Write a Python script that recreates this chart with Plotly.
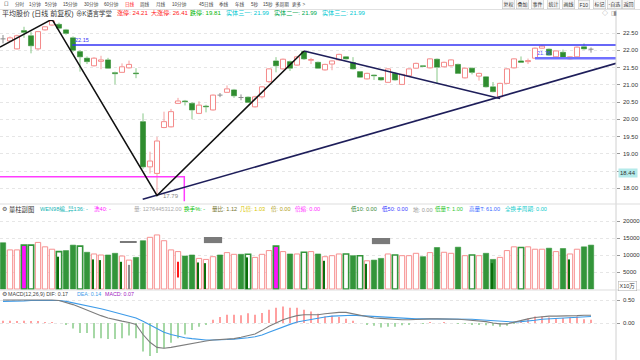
import plotly.graph_objects as go

# ---------------- data ----------------
OPEN = [22.33, 22.27, 22.04, 22.57, 22.42, 22.04, 22.59, 22.73, 22.75, 22.59,
        22.36, 21.96, 21.77, 21.55, 21.68, 21.72, 21.35, 21.36, 21.49, 21.34,
        19.93, 18.62, 18.43, 19.76, 19.78, 20.46, 20.53, 20.46, 20.17, 20.38,
        20.27, 20.70, 20.78, 20.85, 20.63, 20.64, 20.36, 20.65, 21.09, 21.69,
        21.46, 21.67, 21.57, 21.96, 21.71, 21.65, 21.43, 21.60, 21.72, 21.81,
        21.64, 21.38, 21.17, 21.28, 21.21, 21.07, 21.33, 21.01, 21.26, 21.48,
        21.55, 21.49, 21.74, 21.52, 21.55, 21.59, 21.20, 21.48, 21.25, 21.23,
        20.94, 20.65, 21.04, 21.49, 21.69, 21.67, 21.77, 22.06, 22.03, 21.81,
        21.94, 21.75, 21.81, 22.10, 22.03]
CLOSE = [22.33, 22.36, 22.42, 22.52, 22.13, 22.54, 22.68, 22.85, 22.64, 22.49,
         22.00, 21.81, 21.67, 21.77, 21.72, 21.48, 21.32, 21.52, 21.59, 21.32,
         18.62, 18.79, 19.37, 19.93, 20.22, 20.53, 20.51, 20.27, 20.41, 20.36,
         20.70, 20.70, 20.88, 20.68, 20.63, 20.49, 20.65, 20.94, 21.46, 21.55,
         21.74, 21.48, 21.81, 21.75, 21.73, 21.48, 21.59, 21.69, 21.88, 21.75,
         21.46, 21.22, 21.33, 21.26, 21.14, 21.46, 21.14, 21.30, 21.46, 21.62,
         21.53, 21.75, 21.51, 21.65, 21.72, 21.33, 21.48, 21.36, 21.33, 20.94,
         20.80, 21.04, 21.46, 21.75, 21.65, 21.70, 22.06, 22.12, 21.86, 21.98,
         21.78, 21.81, 22.09, 22.04, 22.03]
HIGH = [22.44, 22.40, 22.45, 22.68, 22.54, 22.56, 22.70, 22.88, 22.80, 22.62,
        22.40, 22.00, 21.82, 21.80, 21.84, 21.78, 21.38, 21.62, 21.70, 21.48,
        20.17, 19.06, 19.49, 20.22, 20.30, 20.62, 20.56, 20.50, 20.52, 20.42,
        20.72, 20.76, 20.98, 20.88, 20.72, 20.66, 20.68, 20.96, 21.48, 21.80,
        21.76, 21.70, 21.84, 21.98, 21.78, 21.67, 21.61, 21.71, 21.90, 21.83,
        21.80, 21.40, 21.35, 21.29, 21.23, 21.48, 21.36, 21.32, 21.48, 21.64,
        21.57, 21.77, 21.76, 21.67, 21.74, 21.61, 21.50, 21.50, 21.35, 21.25,
        21.08, 21.06, 21.48, 21.77, 21.82, 21.76, 22.08, 22.15, 22.05, 22.00,
        22.02, 21.83, 22.11, 22.20, 22.08]
LOW = [22.20, 22.25, 22.02, 22.36, 21.91, 22.00, 22.57, 22.70, 22.60, 22.45,
       21.95, 21.38, 21.60, 21.53, 21.45, 21.46, 21.01, 21.34, 21.47, 21.19,
       18.56, 18.43, 17.79, 19.74, 19.76, 20.44, 20.40, 20.00, 20.15, 20.20,
       20.25, 20.64, 20.76, 20.62, 20.55, 20.47, 20.34, 20.60, 21.05, 21.36,
       21.44, 21.40, 21.55, 21.72, 21.60, 21.46, 21.41, 21.42, 21.70, 21.73,
       21.44, 21.20, 21.15, 21.14, 21.12, 21.05, 21.12, 20.99, 21.24, 21.46,
       21.51, 21.47, 21.02, 21.50, 21.53, 21.31, 21.18, 21.30, 21.12, 20.92,
       20.78, 20.60, 21.02, 21.47, 21.63, 21.60, 21.75, 22.04, 21.84, 21.79,
       21.76, 21.73, 21.79, 22.02, 21.93]

VOLUME = [13600, 11500, 11500, 12900, 12900, 13700, 12400, 11700, 11000, 11300,
          12900, 12600, 10800, 10300, 10000, 10000, 10500, 9700, 8500, 9300,
          14200, 15200, 15900, 14200, 11500, 11000, 9700, 10000, 9000, 8700,
          9500, 10000, 10700, 10200, 10200, 10200, 9300, 10200, 11300, 12600,
          11000, 10300, 10300, 10800, 11000, 10300, 9500, 9800, 10300, 10300,
          9800, 9800, 8300, 8500, 9000, 10300, 10000, 9800, 9800, 10500,
          9500, 10700, 12200, 10800, 10500, 12300, 9800, 10000, 9800, 10500,
          8700, 9300, 11300, 12400, 12200, 12400, 11700, 11700, 12000, 11000,
          11900, 10300, 11700, 12400, 12900]
VOL_STYLE = ['g', 'r', 'r', 'm', 'gh', 'r', 'r', 'r', 'gh', 'g',
             'g', 'gh', 'g', 'r', 'r', 'g', 'g', 'r', 'r', 'g',
             'g', 'r', 'r', 'r', 'r', 'r', 'g', 'g', 'r', 'r',
             'r', 'g', 'r', 'r', 'g', 'gh', 'r', 'r', 'r', 'm',
             'r', 'g', 'r', 'gh', 'r', 'g', 'r', 'r', 'r', 'gh',
             'g', 'gh', 'r', 'g', 'g', 'r', 'gh', 'r', 'r', 'r',
             'g', 'r', 'g', 'r', 'r', 'g', 'r', 'gh', 'r', 'g',
             'g', 'r', 'r', 'r', 'gh', 'r', 'r', 'r', 'g', 'r',
             'g', 'r', 'r', 'g', 'g']
INNER_IDX = [8, 13, 14, 17, 28, 29, 35, 46, 52, 70, 81]
INNER_VAL = [9500, 8700, 8500, 8000, 7800, 7600, 9300, 8300, 7400, 7600, 8700]
INNER_GRAY_IDX = [18]
INNER_GRAY_VAL = [7100]
FLOAT_RED_IDX = [25]
FLOAT_RED_LO = [3400]
FLOAT_RED_HI = [8000]
MARK_START = [16.7, 28.7, 52.7]
MARK_END = [19.1, 31.3, 55.3]
MARK_LO = [13600, 13500, 13200]
MARK_HI = [14100, 15300, 15000]

DIF = [0.50, 0.50, 0.51, 0.51, 0.51, 0.51, 0.50, 0.50, 0.49, 0.45,
       0.40, 0.34, 0.28, 0.21, 0.16, 0.11, 0.07, 0.04, 0.01, -0.03,
       -0.25, -0.42, -0.53, -0.55, -0.53, -0.50, -0.48, -0.45, -0.42, -0.39,
       -0.37, -0.36, -0.35, -0.34, -0.31, -0.28, -0.24, -0.16, -0.07, 0.00,
       0.07, 0.12, 0.16, 0.18, 0.18, 0.18, 0.20, 0.22, 0.23, 0.23,
       0.20, 0.16, 0.13, 0.11, 0.10, 0.09, 0.07, 0.07, 0.07, 0.08,
       0.08, 0.09, 0.09, 0.09, 0.09, 0.08, 0.07, 0.06, 0.05, 0.03,
       0.00, -0.02, -0.02, 0.02, 0.06, 0.09, 0.12, 0.14, 0.15, 0.15,
       0.15, 0.15, 0.16, 0.17, 0.17]
DEA = [0.47, 0.47, 0.48, 0.48, 0.49, 0.49, 0.49, 0.49, 0.49, 0.47,
       0.44, 0.41, 0.38, 0.34, 0.31, 0.27, 0.23, 0.19, 0.16, 0.11,
       0.04, -0.04, -0.12, -0.20, -0.25, -0.29, -0.32, -0.34, -0.36, -0.37,
       -0.37, -0.37, -0.36, -0.35, -0.34, -0.32, -0.30, -0.26, -0.20, -0.14,
       -0.08, -0.03, 0.02, 0.05, 0.08, 0.10, 0.13, 0.15, 0.16, 0.17,
       0.17, 0.16, 0.15, 0.14, 0.13, 0.12, 0.11, 0.10, 0.09, 0.09,
       0.09, 0.09, 0.09, 0.09, 0.09, 0.09, 0.08, 0.08, 0.07, 0.06,
       0.04, 0.03, 0.02, 0.02, 0.03, 0.04, 0.06, 0.08, 0.09, 0.10,
       0.11, 0.12, 0.13, 0.13, 0.14]
MACD_HIST = [0.05, 0.05, 0.04, 0.05, 0.04, 0.03, 0.01, 0.01, 0.00, -0.03,
             -0.12, -0.22, -0.22, -0.33, -0.33, -0.35, -0.35, -0.33, -0.27, -0.33,
             -0.62, -0.72, -0.65, -0.55, -0.43, -0.33, -0.25, -0.15, -0.08, -0.03,
             0.07, 0.13, 0.18, 0.18, 0.17, 0.21, 0.18, 0.22, 0.29, 0.33,
             0.36, 0.33, 0.33, 0.29, 0.25, 0.20, 0.14, 0.16, 0.13, 0.09,
             0.05, 0.00, -0.03, -0.06, -0.10, -0.08, -0.08, -0.05, -0.03, 0.00,
             -0.01, 0.01, 0.00, 0.01, 0.00, -0.02, -0.02, -0.03, -0.04, -0.05,
             -0.06, -0.08, -0.06, -0.02, 0.06, 0.10, 0.14, 0.14, 0.12, 0.10,
             0.11, 0.12, 0.14, 0.08, 0.07]

# drawn annotation lines (index, price)
ZIG_X = [-0.43, 7.0, 22.0, 43.0]
ZIG_Y = [22.09, 22.90, 17.79, 21.98]
DOWN_X = [43.0, 71.0]
DOWN_Y = [21.98, 20.60]
UP_X = [19.96, 87.57]
UP_Y = [17.68, 21.62]
HLINE1_START, HLINE1_PRICE = 9.9, 22.15
HLINE2_START, HLINE2_PRICE = 76.0, 21.77
BOX_X = [-0.43, 25.9, 25.9]
BOX_Y = [18.33, 18.33, 17.62]

HEADER_TOOLBAR = ["口", "分时", "1分钟", "5分钟", "15分钟", "30分钟", "60分钟", "日线", "周线", "月线",
                  "10分钟", "45日线", "季线", "年线", "5秒", "15秒", "多周期", "更多 >"]
BUTTONS = ["复权", "叠加", "事件", "统计", "画线", "F10", "标记", "-自选", "返回"]
PRICE_TICKS = [18.0, 18.5, 19.0, 19.5, 20.0, 20.5, 21.0, 21.5, 22.0, 22.5]
VOL_TICKS = [5000, 10000, 15000, 20000]
MACD_TICKS = [0.0, 0.5]

# ---------------- styling ----------------
FONT = "Liberation Sans, Noto Sans CJK SC, DejaVu Sans"
RED_LINE = '#f48a8a'
RED_WICK = '#f5a0a0'
GREEN_BODY = '#2f8d2f'
GREEN_WICK = '#88c888'
DOJI = '#8a8a8a'
W = 640
H = 360
X_LEFT = -0.4286
X_RIGHT = 87.571

N = len(CLOSE)
IDX = list(range(N))
up = [i for i in IDX if CLOSE[i] > OPEN[i]]
dn = [i for i in IDX if CLOSE[i] < OPEN[i]]
dj = [i for i in IDX if CLOSE[i] == OPEN[i]]

fig = go.Figure()


def wick_xy(ids):
    xs, ys = [], []
    for i in ids:
        top = max(OPEN[i], CLOSE[i])
        bot = min(OPEN[i], CLOSE[i])
        xs += [i, i, None, i, i, None]
        ys += [HIGH[i], top, None, bot, LOW[i], None]
    return xs, ys


# candle bodies
fig.add_trace(go.Bar(x=up, y=[CLOSE[i] - OPEN[i] for i in up], base=[OPEN[i] for i in up],
                     width=0.72, marker=dict(color='white', line=dict(color=RED_LINE, width=1)),
                     hoverinfo='skip', xaxis='x', yaxis='y'))
fig.add_trace(go.Bar(x=dn, y=[OPEN[i] - CLOSE[i] for i in dn], base=[CLOSE[i] for i in dn],
                     width=0.72, marker=dict(color=GREEN_BODY, line=dict(color=GREEN_BODY, width=0.6)),
                     hoverinfo='skip', xaxis='x', yaxis='y'))
wx, wy = wick_xy(up)
fig.add_trace(go.Scatter(x=wx, y=wy, mode='lines', line=dict(color=RED_WICK, width=1),
                         hoverinfo='skip', xaxis='x', yaxis='y'))
wx, wy = wick_xy(dn)
fig.add_trace(go.Scatter(x=wx, y=wy, mode='lines', line=dict(color=GREEN_WICK, width=1),
                         hoverinfo='skip', xaxis='x', yaxis='y'))
dx, dy = [], []
for i in dj:
    dx += [i - 0.36, i + 0.36, None, i, i, None]
    dy += [CLOSE[i], CLOSE[i], None, HIGH[i], LOW[i], None]
fig.add_trace(go.Scatter(x=dx, y=dy, mode='lines', line=dict(color=DOJI, width=1),
                         hoverinfo='skip', xaxis='x', yaxis='y'))

# drawn lines on price panel
fig.add_trace(go.Scatter(x=BOX_X, y=BOX_Y, mode='lines', line=dict(color='#ff3cff', width=1.5),
                         hoverinfo='skip', xaxis='x', yaxis='y'))
fig.add_trace(go.Scatter(x=[HLINE1_START, X_RIGHT], y=[HLINE1_PRICE, HLINE1_PRICE], mode='lines',
                         line=dict(color='#3535f5', width=1.5), hoverinfo='skip', xaxis='x', yaxis='y'))
fig.add_trace(go.Scatter(x=[HLINE2_START, X_RIGHT], y=[HLINE2_PRICE, HLINE2_PRICE], mode='lines',
                         line=dict(color='#7070ff', width=2.5), hoverinfo='skip', xaxis='x', yaxis='y'))
fig.add_trace(go.Scatter(x=UP_X, y=UP_Y, mode='lines', line=dict(color='#1e1e5a', width=1.6),
                         hoverinfo='skip', xaxis='x', yaxis='y'))
fig.add_trace(go.Scatter(x=DOWN_X, y=DOWN_Y, mode='lines', line=dict(color='#1e1e5a', width=1.6),
                         hoverinfo='skip', xaxis='x', yaxis='y'))
fig.add_trace(go.Scatter(x=ZIG_X, y=ZIG_Y, mode='lines', line=dict(color='#111111', width=1.5),
                         hoverinfo='skip', xaxis='x', yaxis='y'))

# volume bars
VSTY = {
    'r': dict(color='white', line=dict(color='#f79090', width=1)),
    'g': dict(color='#33953a', line=dict(color='#33953a', width=0.6)),
    'gh': dict(color='white', line=dict(color='#33953a', width=1.6)),
    'm': dict(color='#ff10ff', line=dict(color='#33953a', width=1.6)),
}
for key, mk in VSTY.items():
    ids = [i for i in IDX if VOL_STYLE[i] == key]
    fig.add_trace(go.Bar(x=ids, y=[VOLUME[i] for i in ids], width=0.76, marker=mk,
                         hoverinfo='skip', xaxis='x', yaxis='y2'))
fig.add_trace(go.Bar(x=INNER_IDX, y=INNER_VAL, width=0.3, offset=-0.3,
                     marker=dict(color='#0b6e0b', line=dict(width=0)), hoverinfo='skip', xaxis='x', yaxis='y2'))
fig.add_trace(go.Bar(x=INNER_GRAY_IDX, y=INNER_GRAY_VAL, width=0.3, offset=-0.15,
                     marker=dict(color='#8c8c8c', line=dict(width=0)), hoverinfo='skip', xaxis='x', yaxis='y2'))
fig.add_trace(go.Bar(x=FLOAT_RED_IDX, y=[h - l for h, l in zip(FLOAT_RED_HI, FLOAT_RED_LO)], base=FLOAT_RED_LO,
                     width=0.28, marker=dict(color='#ff1a1a', line=dict(width=0)), hoverinfo='skip',
                     xaxis='x', yaxis='y2'))
fig.add_trace(go.Bar(x=[(s + e) / 2 for s, e in zip(MARK_START, MARK_END)],
                     y=[h - l for h, l in zip(MARK_HI, MARK_LO)], base=MARK_LO,
                     width=[e - s for s, e in zip(MARK_START, MARK_END)],
                     marker=dict(color='#7a7a7a', line=dict(width=0)), hoverinfo='skip', xaxis='x', yaxis='y2'))

# MACD
hist_col = ['#ffa0a0' if v >= 0 else '#a6d8a6' for v in MACD_HIST]
fig.add_trace(go.Bar(x=IDX, y=MACD_HIST, width=0.16, marker=dict(color=hist_col, line=dict(width=0)),
                     hoverinfo='skip', xaxis='x', yaxis='y3'))
fig.add_trace(go.Scatter(x=IDX, y=DEA, mode='lines', line=dict(color='#3d9be9', width=1.1),
                         hoverinfo='skip', xaxis='x', yaxis='y3'))
fig.add_trace(go.Scatter(x=IDX, y=DIF, mode='lines', line=dict(color='#7d7d7d', width=1.1),
                         hoverinfo='skip', xaxis='x', yaxis='y3'))


def py(p):
    return 1 - p / H


def px(p):
    return p / W


axis_common = dict(side='right', anchor='x', showline=False, zeroline=False, ticks='outside', ticklen=3,
                   tickcolor='#9a9a9a', showticklabels=False,
                   gridcolor='#e6e6e6', griddash='dot', gridwidth=1, fixedrange=True)

ann = []


def txt(s, x, y, color, size, **kw):
    d = dict(text=s, x=px(x), y=py(y), xref='paper', yref='paper', xanchor='left', yanchor='middle',
             showarrow=False, font=dict(color=color, size=size, family=FONT))
    d.update(kw)
    ann.append(d)


def tick_label(s, val, yref):
    ann.append(dict(text=s, x=px(621), y=val, xref='paper', yref=yref, xanchor='left', yanchor='middle',
                    showarrow=False, font=dict(size=6, color='#333333', family=FONT)))


for t in PRICE_TICKS:
    if abs(t - 18.5) > 1e-9:
        tick_label(f"{t:.2f}", t, 'y')
for t in VOL_TICKS:
    tick_label(str(t), t, 'y2')
for t in MACD_TICKS:
    tick_label(f"{t:.2f}", t, 'y3')

# toolbar
tb_x = [2, 13, 27, 43, 61, 82, 102, 123, 138, 154, 170, 197, 217, 233, 249, 261, 273, 290]
for s, x in zip(HEADER_TOOLBAR, tb_x):
    txt(s, x, 4.5, '#ff2020' if s == '日线' else '#444444', 4.6)
bt_x = [502, 516, 531, 547, 562, 578, 593, 607, 622]
for s, x in zip(BUTTONS, bt_x):
    txt(s, x, 4.5, '#333333', 5, bgcolor='#f6f6f6', bordercolor='#bdbdbd', borderwidth=0.5, borderpad=1)

# header line
txt("平均股价 (日线 前复权)", 0, 13.5, '#333333', 7)
txt("⊕K语言学堂", 74, 13.5, '#333333', 6.3)
txt("涨停: 24.21", 115, 13.5, '#ff2020', 6.1)
txt("大涨停: 26.41", 149, 13.5, '#ff2020', 6.1)
txt("跌停: 19.81", 188, 13.5, '#00b400', 6.1)
txt("实体三一: 21.99", 224, 13.5, '#00c8d2', 6.1)
txt("实体二一: 21.99", 272, 13.5, '#00a850', 6.1)
txt("实体三二: 21.99", 320, 13.5, '#00c8d2', 6.1)
txt("◇", 600, 13.5, '#888888', 6)
txt("◨", 609, 13.5, '#888888', 6)

# volume header
txt("⚙", 0, 209, '#555555', 6)
txt("量柱副图", 7, 209, '#333333', 6.3)
txt("WEN98编_异136: -", 38, 209, '#14b4b4', 5.6)
txt("洗40: -", 92, 209, '#ff20ff', 5.6)
txt("量: 1276445312.00", 132, 209, '#aaaaaa', 5.6)
txt("换手%: -", 182, 209, '#00c000', 5.6)
txt("量比: 1.12", 210, 209, '#777733', 5.6)
txt("几倍: 1.03", 238, 209, '#d8c400', 5.6)
txt("倍: 0.00", 269, 209, '#b0a020', 5.6)
txt("倍缩: 0.00", 293, 209, '#ff30ff', 5.6)
txt("低10: 0.00", 349, 209, '#3a8a3a', 5.6)
txt("低50: 0.00", 380, 209, '#4040ff', 5.6)
txt("地: 0.00", 411, 209, '#9a9a9a', 5.6)
txt("低量T: 1.00", 433, 209, '#33c833', 5.6)
txt("高量T: 61.00", 467, 209, '#3a6aff', 5.6)
txt("全换手周期: 0.00", 503, 209, '#10cccc', 5.6)
txt("X10万", 618, 286, '#333333', 5.5, bordercolor='#aaaaaa', borderwidth=0.5, borderpad=1, bgcolor='white')

# MACD header
txt("⚙", 0, 293.5, '#555555', 6)
txt("MACD(12,26,9) DIF: 0.17", 6, 293.5, '#444444', 5.3)
txt("DEA: 0.14", 75, 293.5, '#3d9be9', 5.3)
txt("MACD: 0.07", 103, 293.5, '#a020c0', 5.3)

# price labels on chart (data coordinates)
ann.append(dict(text="22.88", x=7.7, y=HIGH[7], xref='x', yref='y', xanchor='left', yanchor='middle',
                showarrow=False, font=dict(size=6, color='#999999', family=FONT)))
ann.append(dict(text="17.79", x=22.6, y=LOW[22], xref='x', yref='y', xanchor='left', yanchor='middle',
                showarrow=False, font=dict(size=6, color='#888888', family=FONT)))
ann.append(dict(text="22.15", x=HLINE1_START + 0.1, y=HLINE1_PRICE, xref='x', yref='y', xanchor='left',
                yanchor='bottom', showarrow=False, font=dict(size=5.5, color='#3535f5', family=FONT)))
ann.append(dict(text="21.76", x=HLINE2_START, y=HLINE2_PRICE, xref='x', yref='y', xanchor='left',
                yanchor='bottom', showarrow=False, font=dict(size=5.5, color='#5050ff', family=FONT)))
ann.append(dict(text="18.44", x=px(618), y=18.44, xref='paper', yref='y', xanchor='left', yanchor='middle',
                showarrow=False, bgcolor='#b4eaea', borderpad=1,
                font=dict(size=6, color='#333333', family=FONT)))

shapes = [
    dict(type='line', xref='paper', yref='paper', x0=px(616), x1=px(616), y0=0, y1=py(9.5),
         line=dict(color='#d0d0d0', width=1)),
    dict(type='line', xref='paper', yref='paper', x0=0, x1=1, y0=py(9.5), y1=py(9.5),
         line=dict(color='#e0e0e0', width=1)),
    dict(type='line', xref='paper', yref='paper', x0=0, x1=1, y0=py(204), y1=py(204),
         line=dict(color='#dddddd', width=1)),
    dict(type='line', xref='paper', yref='paper', x0=0, x1=1, y0=py(290), y1=py(290),
         line=dict(color='#dddddd', width=1)),
]

fig.update_layout(
    width=W, height=H, margin=dict(l=0, r=0, t=0, b=0),
    paper_bgcolor='white', plot_bgcolor='white', showlegend=False, barmode='overlay',
    xaxis=dict(domain=[0, px(616)], range=[X_LEFT, X_RIGHT], visible=False, fixedrange=True),
    yaxis=dict(domain=[py(203), py(20)], range=[17.5725, 22.8768], tickvals=PRICE_TICKS, **axis_common),
    yaxis2=dict(domain=[py(290), py(204)], range=[-294, 25000], tickvals=VOL_TICKS, **axis_common),
    yaxis3=dict(domain=[0, py(290)], range=[-0.8043, 0.7174], tickvals=MACD_TICKS, **axis_common),
    annotations=ann, shapes=shapes,
)

fig.write_html("out.html", config={'displayModeBar': False},
               post_script="document.body.style.margin='0';document.body.style.overflow='hidden';")
